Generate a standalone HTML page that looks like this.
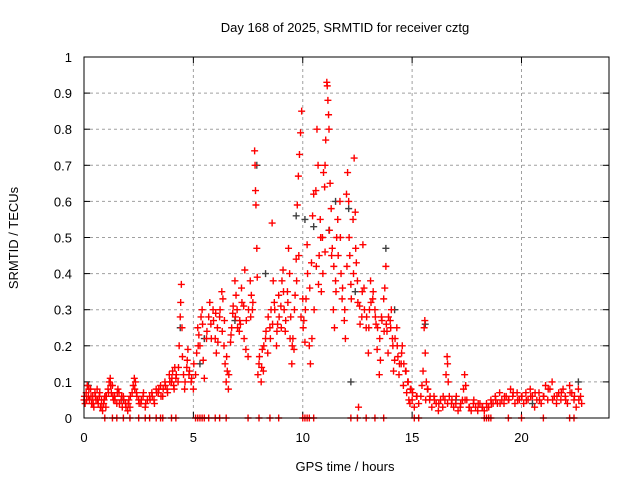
<!DOCTYPE html>
<html><head><meta charset="utf-8"><style>
body{margin:0;background:#fff}
svg text{font-family:"Liberation Sans",sans-serif;font-size:13px;fill:#000}
</style></head><body>
<svg id="chart" width="640" height="480">
<rect width="640" height="480" fill="#fff"/>
<g id="grid"></g>
<g id="axes"></g>
<g id="black"></g>
<g id="red"></g>
<rect x="84" y="57" width="525" height="361" fill="none" stroke="#000" stroke-width="1"/>
<text x="345" y="32" text-anchor="middle">Day 168 of 2025, SRMTID for receiver cztg</text>
<text x="345" y="471" text-anchor="middle">GPS time / hours</text>
<text transform="translate(18,238) rotate(-90)" text-anchor="middle">SRMTID / TECUs</text>
</svg>
<script>
const xTicks=[0,5,10,15,20];
const yTicks=[0,0.1,0.2,0.3,0.4,0.5,0.6,0.7,0.8,0.9,1];
const yTickLabels=["0","0.1","0.2","0.3","0.4","0.5","0.6","0.7","0.8","0.9","1"];
const redT=[0.0,0.05,0.1,0.15,0.2,0.25,0.3,0.35,0.4,0.45,0.5,0.55,0.6,0.65,0.7,0.75,0.8,0.85,0.9,0.95,1.0,1.1,1.15,1.2,1.25,1.3,1.35,1.4,1.5,1.55,1.6,1.7,1.75,1.8,1.9,2.0,2.05,2.1,2.2,2.25,2.3,2.35,2.4,2.5,2.6,2.7,2.8,2.9,3.0,3.1,3.2,3.3,3.4,3.5,3.6,3.7,3.8,3.9,4.0,4.05,4.1,4.15,4.2,4.3,4.35,4.4,4.42,4.45,4.48,4.5,4.55,4.6,4.7,4.75,4.8,4.9,5.0,5.1,5.15,5.2,5.25,5.3,5.35,5.4,5.45,5.5,5.6,5.7,5.75,5.8,5.9,6.0,6.05,6.1,6.2,6.3,6.35,6.4,6.45,6.5,6.55,6.6,6.7,6.75,6.8,6.9,6.95,7.0,7.1,7.15,7.2,7.3,7.35,7.4,7.5,7.6,7.65,7.7,7.8,7.82,7.84,7.86,7.9,7.92,7.95,8.0,8.1,8.15,8.2,8.3,8.4,8.5,8.55,8.6,8.65,8.7,8.8,8.85,8.9,9.0,9.05,9.1,9.15,9.2,9.3,9.35,9.4,9.45,9.5,9.55,9.6,9.65,9.7,9.75,9.8,9.85,9.9,9.95,10.0,10.05,10.1,10.15,10.2,10.3,10.35,10.4,10.45,10.5,10.6,10.65,10.7,10.75,10.8,10.85,10.9,10.95,11.0,11.02,11.05,11.1,11.12,11.15,11.18,11.2,11.25,11.3,11.35,11.4,11.45,11.5,11.55,11.6,11.7,11.75,11.8,11.9,11.95,12.0,12.05,12.1,12.15,12.2,12.3,12.35,12.4,12.45,12.5,12.55,12.6,12.7,12.75,12.8,12.9,13.0,13.05,13.1,13.2,13.3,13.35,13.4,13.5,13.55,13.6,13.7,13.75,13.8,13.85,13.9,14.0,14.05,14.1,14.15,14.2,14.3,14.35,14.4,14.5,14.55,14.6,14.7,14.75,14.8,14.85,14.9,14.95,15.0,15.1,15.2,15.3,15.4,15.45,15.5,15.55,15.58,15.6,15.65,15.7,15.8,15.9,16.0,16.1,16.2,16.3,16.4,16.5,16.55,16.6,16.62,16.65,16.7,16.8,16.9,17.0,17.1,17.2,17.3,17.35,17.4,17.45,17.5,17.6,17.7,17.8,17.9,18.0,18.1,18.2,18.3,18.4,18.5,18.6,18.7,18.8,18.9,19.0,19.1,19.2,19.3,19.4,19.5,19.6,19.7,19.8,19.9,20.0,20.1,20.2,20.3,20.4,20.5,20.6,20.7,20.8,20.9,21.0,21.1,21.2,21.3,21.4,21.5,21.6,21.7,21.8,21.9,22.0,22.1,22.2,22.3,22.4,22.5,22.6,22.7,22.75];
const redV=[.05,.04,.07,.09,.06,.05,.08,.04,.06,.03,.07,.05,.08,.04,.06,.03,.05,.02,.04,.06,.03,.08,.1,.11,.07,.09,.05,.06,.04,.08,.07,.05,.03,.06,.04,.02,.05,.03,.07,.09,.11,.1,.07,.05,.04,.06,.03,.05,.06,.07,.05,.08,.07,.09,.06,.1,.08,.12,.1,.13,.09,.14,.11,.1,.2,.28,.32,.37,.25,.17,.12,.08,.14,.19,.12,.1,.08,.12,.18,.25,.23,.2,.28,.3,.16,.11,.22,.28,.32,.26,.3,.22,.18,.25,.28,.35,.33,.2,.15,.1,.13,.08,.21,.25,.29,.38,.34,.3,.24,.26,.36,.31,.41,.19,.17,.38,.34,.3,.74,.7,.63,.59,.47,.39,.12,.15,.1,.19,.13,.22,.18,.25,.3,.54,.38,.32,.2,.26,.34,.31,.38,.41,.3,.24,.35,.47,.4,.28,.15,.22,.19,.34,.44,.59,.67,.73,.79,.85,.33,.27,.21,.33,.48,.2,.15,.43,.56,.62,.63,.8,.7,.45,.55,.35,.5,.68,.64,.7,.77,.93,.92,.88,.84,.8,.65,.58,.47,.3,.25,.38,.5,.55,.6,.4,.33,.27,.22,.62,.68,.6,.45,.37,.55,.72,.57,.43,.38,.03,.31,.28,.48,.36,.25,.18,.3,.38,.33,.3,.26,.19,.12,.16,.28,.33,.36,.42,.24,.18,.27,.3,.22,.13,.16,.25,.17,.12,.15,.2,.09,.13,.07,.1,.05,.04,.08,.05,.03,.06,.04,.06,.09,.13,.25,.27,.18,.1,.08,.05,.03,.06,.04,.02,.05,.03,.05,.12,.17,.15,.1,.06,.04,.03,.04,.02,.03,.05,.08,.12,.09,.05,.03,.02,.04,.03,.02,.04,.03,.02,.04,.03,.05,.04,.06,.04,.07,.05,.04,.06,.05,.08,.06,.04,.07,.05,.06,.04,.07,.05,.08,.06,.03,.05,.07,.04,.06,.09,.05,.08,.1,.06,.04,.07,.05,.08,.06,.04,.09,.07,.05,.03,.08,.06,.04];
const redT2=[0.02,0.12,0.22,0.32,0.42,0.52,0.62,0.72,0.82,0.92,1.02,1.12,1.22,1.32,1.42,1.52,1.62,1.72,1.82,1.92,2.02,2.12,2.32,2.42,2.52,2.62,2.72,2.82,3.02,3.12,3.22,3.32,3.42,3.52,3.62,3.72,3.82,3.92,4.02,4.12,4.22,4.32,4.62,4.72,4.82,4.92,5.02,5.22,5.42,5.62,5.82,5.92,6.02,6.12,6.22,6.32,6.42,6.52,6.62,6.72,6.82,6.92,7.02,7.12,7.22,7.32,7.42,7.52,7.62,7.72,8.02,8.12,8.22,8.32,8.42,8.52,8.62,8.72,8.82,8.92,9.02,9.12,9.22,9.32,9.42,9.52,9.62,9.72,9.82,9.92,10.02,10.12,10.22,10.32,10.42,10.52,10.62,10.72,10.82,10.92,11.02,11.22,11.32,11.42,11.52,11.62,11.72,11.82,11.92,12.02,12.12,12.22,12.32,12.42,12.52,12.62,12.72,12.82,12.92,13.02,13.12,13.22,13.32,13.42,13.52,13.62,13.72,13.82,13.92,14.02,14.12,14.22,14.32,14.42,14.52,14.62,14.72,14.82,14.92,15.02,15.22,15.62,15.72,15.82,16.02,16.22,16.42,16.62,16.82,17.02,17.22,17.42,17.62,17.82,18.02,18.22,18.42,18.62,18.82,19.02,19.22,19.42,19.62,19.82,20.02,20.22,20.42,20.62,20.82,21.02,21.22,21.42,21.62,21.82,22.02,22.22,22.42,22.62];
const redV2=[.06,.05,.08,.06,.04,.06,.05,.07,.03,.05,.06,.07,.09,.06,.05,.07,.04,.06,.05,.03,.04,.06,.08,.06,.04,.05,.07,.04,.05,.06,.04,.07,.08,.06,.08,.09,.07,.1,.11,.08,.12,.14,.1,.16,.13,.11,.15,.2,.26,.24,.22,.27,.29,.21,.3,.24,.27,.17,.12,.23,.31,.28,.25,.27,.32,.22,.27,.3,.28,.32,.17,.14,.2,.24,.28,.22,.26,.3,.24,.28,.25,.35,.27,.32,.22,.2,.3,.38,.45,.28,.25,.3,.4,.36,.22,.3,.42,.37,.5,.4,.46,.52,.45,.42,.35,.45,.5,.36,.3,.42,.5,.33,.4,.47,.32,.26,.35,.3,.28,.25,.32,.35,.28,.25,.22,.27,.24,.26,.28,.25,.2,.22,.2,.15,.18,.15,.13,.1,.08,.07,.06,.05,.08,.06,.05,.04,.06,.04,.05,.06,.04,.05,.03,.05,.04,.03,.03,.04,.05,.04,.06,.05,.07,.05,.06,.05,.06,.07,.05,.06,.08,.05,.06,.07,.05,.07,.06,.05];
const zeroT=[0.95,1.3,1.5,1.8,2.1,2.5,2.8,3.0,3.3,3.5,3.6,4.0,4.2,5.1,5.2,5.3,5.4,5.5,5.7,6.0,6.2,6.5,7.5,8.0,8.5,8.9,10.0,10.1,10.2,10.3,10.5,12.2,12.5,12.9,13.3,13.7,15.1,15.3,18.3,18.4,18.5,18.6,19.4,20.0,21.0,22.2,22.4];
const blackT=[0.2,1.8,4.4,5.3,5.5,6.9,7.9,8.3,9.7,10.1,10.5,11.2,11.5,12.1,12.2,12.4,13.8,14.2,15.6,17.0,20.5,22.6];
const blackV=[.09,.05,.25,.15,.22,.27,.7,.4,.56,.55,.53,.52,.6,.58,.1,.35,.47,.3,.26,.05,.04,.1];
const X=t=>84+t*(525/24), Y=v=>418-v*361;
const NS='http://www.w3.org/2000/svg';
function mk(tag,attrs,parent){const e=document.createElementNS(NS,tag);for(const k in attrs)e.setAttribute(k,attrs[k]);parent.appendChild(e);return e;}
const grid=document.getElementById('grid'),axes=document.getElementById('axes');
xTicks.forEach(t=>{
 if(t>0){const l=mk('line',{x1:X(t),x2:X(t),y1:57,y2:418,stroke:'#a0a0a0','stroke-dasharray':'3,3'},grid);
 
 }
 mk('line',{x1:X(t),x2:X(t),y1:418,y2:412,stroke:'#000'},axes);
 mk('line',{x1:X(t),x2:X(t),y1:57,y2:63,stroke:'#000'},axes);
 const tx=mk('text',{x:X(t),y:442,'text-anchor':'middle'},axes);tx.textContent=t;
 
 
});
yTicks.forEach((v,i)=>{
 if(v>0&&v<1){const l=mk('line',{x1:84,x2:609,y1:Y(v),y2:Y(v),stroke:'#a0a0a0','stroke-dasharray':'3,3'},grid);
 
 }
 mk('line',{x1:84,x2:90,y1:Y(v),y2:Y(v),stroke:'#000'},axes);
 mk('line',{x1:603,x2:609,y1:Y(v),y2:Y(v),stroke:'#000'},axes);
 const tx=mk('text',{x:72,y:Y(v)+5,'text-anchor':'end'},axes);tx.textContent=yTickLabels[i];
 
 
});
function plus(g,t,v,col){const x=X(t),y=Y(v);
 const p=mk('path',{d:`M${x-3.5},${y}H${x+3.5}M${x},${y-3.5}V${y+3.5}`,stroke:col,'stroke-width':1.4,fill:'none'},g);
 
 }
const bg=document.getElementById('black'),rg=document.getElementById('red');
blackT.forEach((t,i)=>plus(bg,t,blackV[i],'#404040'));
redT.forEach((t,i)=>plus(rg,t,redV[i],'#ff0000'));
redT2.forEach((t,i)=>plus(rg,t,redV2[i],'#ff0000'));
zeroT.forEach(t=>plus(rg,t,0,'#ff0000'));
</script>
</body></html>
